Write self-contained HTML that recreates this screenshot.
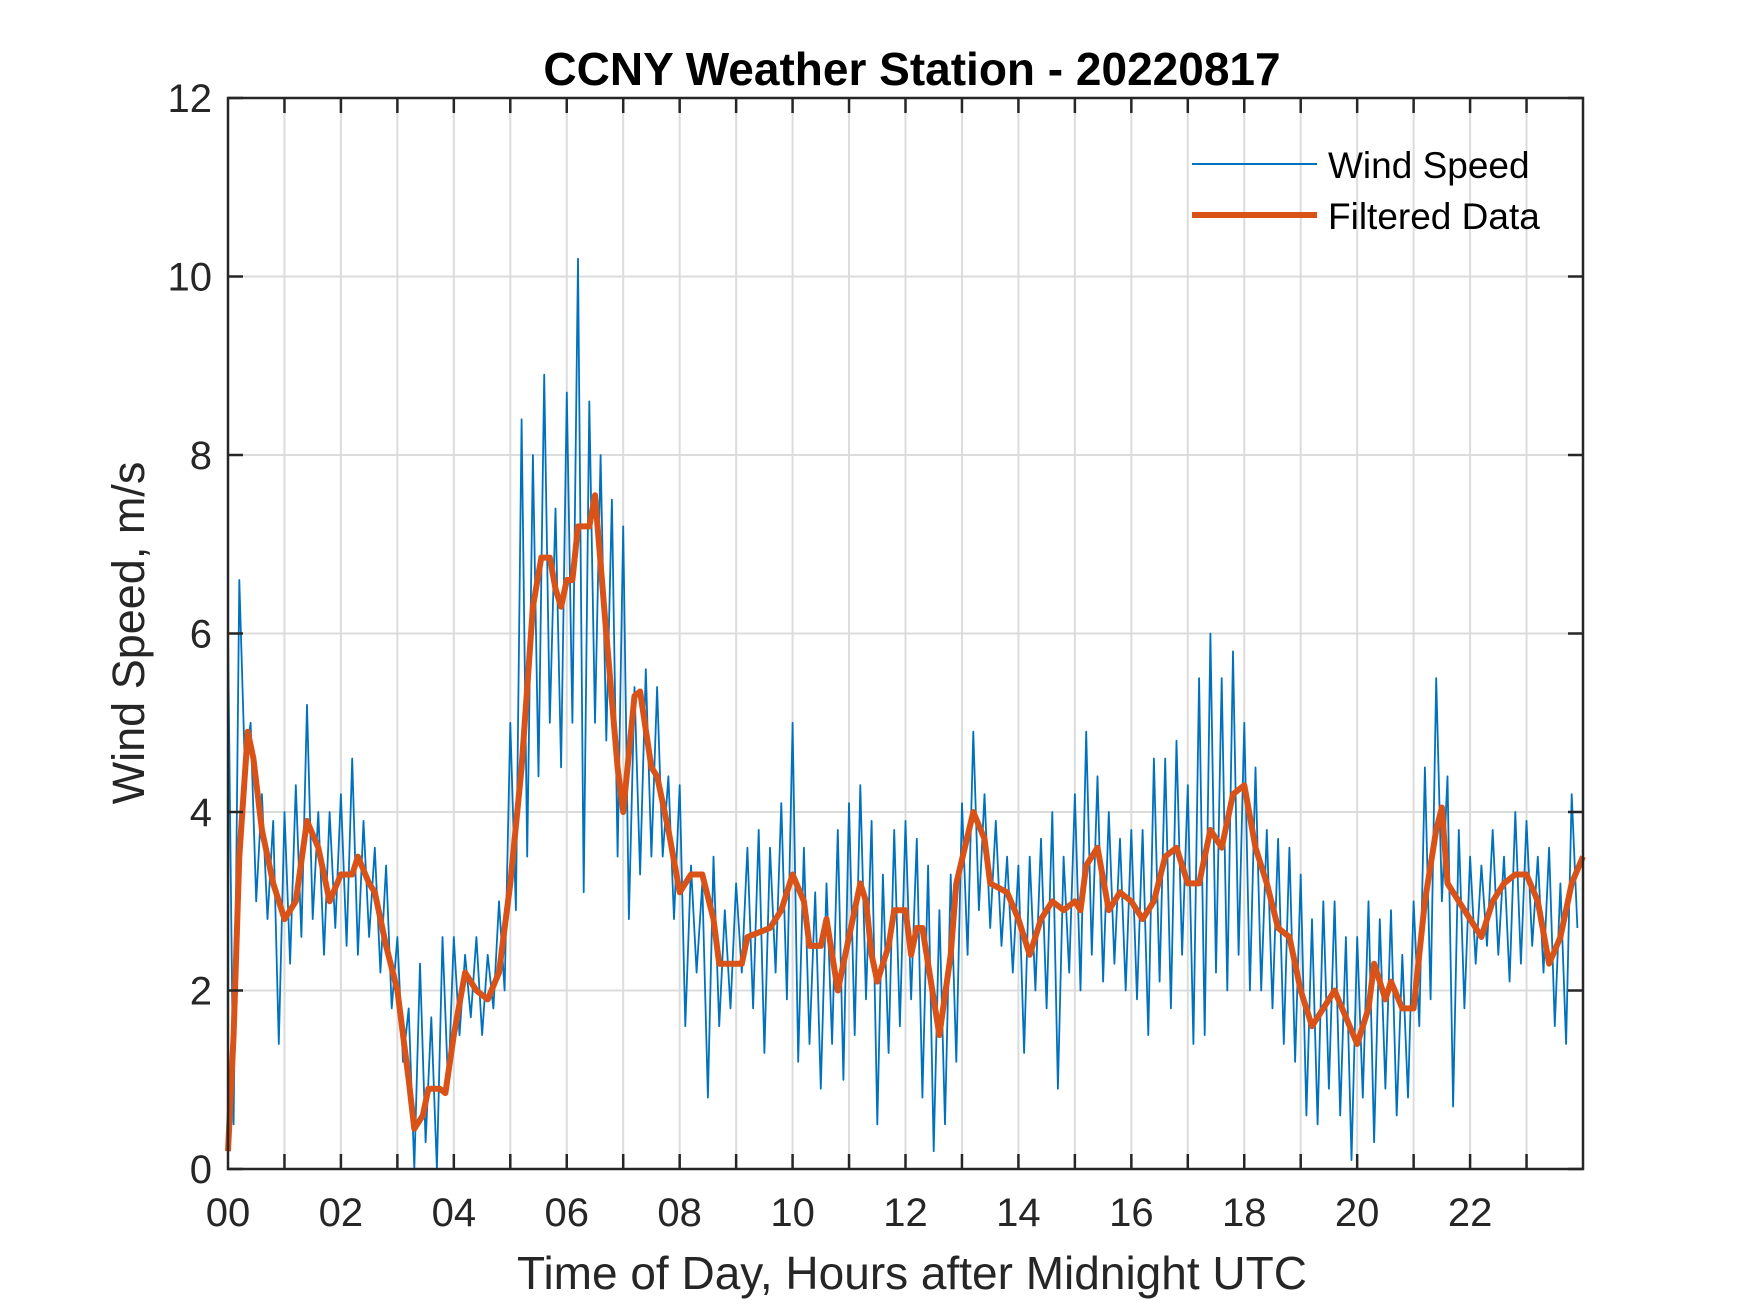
<!DOCTYPE html>
<html><head><meta charset="utf-8"><style>
html,body{margin:0;padding:0;background:#fff;}
svg{display:block;font-family:"Liberation Sans",Arial,sans-serif;}
</style></head><body>
<svg id="chart" width="1750" height="1313" viewBox="0 0 1750 1313" xmlns="http://www.w3.org/2000/svg">
<rect width="1750" height="1313" fill="#fff"/>
<g id="grid"></g>
<g id="series"></g>
<g id="axes"></g>
<text x="912" y="85" text-anchor="middle" font-size="46" font-weight="bold" fill="#000">CCNY Weather Station - 20220817</text>
<text x="912" y="1289" text-anchor="middle" font-size="46" fill="#262626">Time of Day, Hours after Midnight UTC</text>
<text transform="translate(144,633) rotate(-90)" text-anchor="middle" font-size="45" fill="#262626">Wind Speed, m/s</text>
<g>
<line x1="1192" y1="164" x2="1317" y2="164" stroke="#0072BD" stroke-width="2"/>
<text x="1328" y="178" font-size="37" fill="#000">Wind Speed</text>
<line x1="1192" y1="215" x2="1317" y2="215" stroke="#D95319" stroke-width="6"/>
<text x="1328" y="229" font-size="37" fill="#000">Filtered Data</text>
</g>
</svg>
<script>
const binStart = 0, binWidth = 0.2;
const windHi = [6.0,6.6,5.0,4.2,3.9,4.0,4.3,5.2,4.0,4.0,4.2,4.6,3.9,3.6,3.4,2.6,1.8,2.3,1.7,2.6,
2.6,2.4,2.6,2.4,3.0,5.0,8.4,8.0,8.9,7.4,8.7,10.2,8.6,8.0,7.5,7.2,5.4,5.6,5.4,4.4,
4.3,3.4,3.2,3.5,2.9,3.2,3.6,3.8,3.6,4.1,5.0,3.6,3.1,3.2,3.8,4.1,4.3,3.9,3.3,3.8,
3.9,3.7,3.4,2.9,3.3,4.1,4.9,4.2,3.9,3.5,3.4,3.5,3.7,4.0,3.5,4.2,4.9,4.4,4.0,3.7,
3.8,3.8,4.6,4.6,4.8,4.3,5.5,6.0,5.5,5.8,5.0,4.5,3.8,3.7,3.6,3.3,2.8,3.0,3.0,2.6,
2.6,3.0,2.8,2.9,2.4,3.0,4.5,5.5,4.4,3.8,3.5,3.4,3.8,3.5,4.0,3.9,3.5,3.6,3.2,4.2];
const windLo = [0.5,4.5,3.0,2.8,1.4,2.3,2.6,2.8,2.4,2.7,2.5,2.4,2.6,2.2,1.8,1.2,0.0,0.3,0.0,0.9,
1.5,1.7,1.5,1.8,2.0,2.9,3.5,4.4,5.0,4.5,5.0,3.1,5.0,4.8,3.5,2.8,3.3,3.5,3.5,2.8,
1.6,2.2,0.8,1.6,1.8,2.2,1.8,1.3,2.2,1.9,1.2,1.4,0.9,1.4,1.0,1.5,1.9,0.5,1.3,1.6,
1.9,0.8,0.2,0.5,1.2,2.4,2.9,2.7,2.5,2.2,1.3,2.0,1.8,0.9,2.2,2.0,2.4,2.1,2.3,2.0,
1.9,1.5,2.1,1.8,2.4,1.4,1.5,2.2,2.0,2.4,2.0,2.0,1.8,1.4,1.2,0.6,0.5,0.9,0.6,0.1,
0.8,0.3,0.9,0.6,0.8,1.6,1.9,3.0,0.7,1.8,2.3,2.5,2.4,2.1,2.3,2.5,2.2,1.6,1.4,2.7];
const filtT = [0,0.1,0.2,0.35,0.45,0.6,0.8,1.0,1.2,1.4,1.6,1.8,2.0,2.2,2.3,2.5,2.6,2.8,3.0,3.2,3.3,3.45,3.55,3.75,3.85,4.0,4.2,4.4,4.6,4.8,5.0,5.2,5.4,5.55,5.7,5.8,5.9,6.0,6.1,6.2,6.4,6.5,6.7,6.9,7.0,7.2,7.3,7.5,7.6,7.8,8.0,8.2,8.4,8.6,8.7,8.9,9.1,9.2,9.6,9.8,10.0,10.2,10.3,10.5,10.6,10.8,11.0,11.2,11.3,11.4,11.5,11.7,11.8,12.0,12.1,12.2,12.3,12.6,12.8,12.9,13.2,13.4,13.5,13.8,14.0,14.2,14.4,14.6,14.8,15.0,15.1,15.2,15.4,15.6,15.8,16.0,16.2,16.4,16.6,16.8,17.0,17.2,17.4,17.6,17.8,18.0,18.2,18.4,18.6,18.8,19.0,19.2,19.4,19.6,19.8,20.0,20.2,20.3,20.5,20.6,20.8,21.0,21.2,21.4,21.5,21.6,21.8,22.0,22.2,22.4,22.6,22.8,23.0,23.2,23.4,23.6,23.8,24.0];
const filtV = [0.2,1.5,3.5,4.9,4.6,3.8,3.2,2.8,3.0,3.9,3.6,3.0,3.3,3.3,3.5,3.2,3.1,2.5,2.0,1.0,0.45,0.6,0.9,0.9,0.85,1.5,2.2,2.0,1.9,2.2,3.2,4.5,6.3,6.85,6.85,6.5,6.3,6.6,6.6,7.2,7.2,7.55,6.0,4.5,4.0,5.3,5.35,4.5,4.4,3.8,3.1,3.3,3.3,2.8,2.3,2.3,2.3,2.6,2.7,2.9,3.3,3.0,2.5,2.5,2.8,2.0,2.6,3.2,3.0,2.4,2.1,2.5,2.9,2.9,2.4,2.7,2.7,1.5,2.4,3.2,4.0,3.7,3.2,3.1,2.8,2.4,2.8,3.0,2.9,3.0,2.9,3.4,3.6,2.9,3.1,3.0,2.8,3.0,3.5,3.6,3.2,3.2,3.8,3.6,4.2,4.3,3.6,3.2,2.7,2.6,2.0,1.6,1.8,2.0,1.7,1.4,1.8,2.3,1.9,2.1,1.8,1.8,3.0,3.8,4.05,3.2,3.0,2.8,2.6,3.0,3.2,3.3,3.3,3.0,2.3,2.6,3.2,3.5];
const xTickLabels = ["00","02","04","06","08","10","12","14","16","18","20","22"];
const yTickLabels = ["0","2","4","6","8","10","12"];

const L=228,R=1583,T=98,B=1169,XMAX=24,YMAX=12;
const sx=h=>L+(R-L)*h/XMAX, sy=v=>B-(B-T)*v/YMAX;
const NS="http://www.w3.org/2000/svg";
function mk(tag,parent){const e=document.createElementNS(NS,tag);parent.appendChild(e);return e;}
const grid=document.getElementById('grid'),series=document.getElementById('series'),axes=document.getElementById('axes');

for(let h=1;h<XMAX;h++){
  const g=mk('line',grid);
  
  
  g.setAttribute('x1',sx(h));g.setAttribute('x2',sx(h));g.setAttribute('y1',T);g.setAttribute('y2',B);
  g.setAttribute('stroke','#dcdcdc');g.setAttribute('stroke-width','2');
}
for(let i=1;i<yTickLabels.length-1;i++){
  const v=+yTickLabels[i];
  const g=mk('line',grid);
  
  
  g.setAttribute('x1',L);g.setAttribute('x2',R);g.setAttribute('y1',sy(v));g.setAttribute('y2',sy(v));
  g.setAttribute('stroke','#dcdcdc');g.setAttribute('stroke-width','2');
}

let d='';
for(let i=0;i<windHi.length;i++){
  const t=binStart+i*binWidth;
  d+=(i?'L':'M')+sx(t).toFixed(1)+','+sy(windHi[i]).toFixed(1);
  d+='L'+sx(t+binWidth/2).toFixed(1)+','+sy(windLo[i]).toFixed(1);
}
const wl=mk('path',series);


wl.setAttribute('d',d);wl.setAttribute('fill','none');wl.setAttribute('stroke','#0072BD');wl.setAttribute('stroke-width','1.8');wl.setAttribute('stroke-linejoin','round');

let fd='';
for(let i=0;i<filtT.length;i++) fd+=(i?'L':'M')+sx(filtT[i]).toFixed(1)+','+sy(filtV[i]).toFixed(1);
const fl=mk('path',series);


fl.setAttribute('d',fd);fl.setAttribute('fill','none');fl.setAttribute('stroke','#D95319');fl.setAttribute('stroke-width','6');fl.setAttribute('stroke-linejoin','round');

const box=mk('rect',axes);


box.setAttribute('x',L);box.setAttribute('y',T);box.setAttribute('width',R-L);box.setAttribute('height',B-T);
box.setAttribute('fill','none');box.setAttribute('stroke','#262626');box.setAttribute('stroke-width','2.5');

for(let h=1;h<XMAX;h++){
  for(const [y1,y2] of [[B,B-15],[T,T+15]]){
    const tk=mk('line',axes);
    
    
    tk.setAttribute('x1',sx(h));tk.setAttribute('x2',sx(h));tk.setAttribute('y1',y1);tk.setAttribute('y2',y2);
    tk.setAttribute('stroke','#262626');tk.setAttribute('stroke-width','2.5');
  }
}
xTickLabels.forEach((lab,i)=>{
  const tx=mk('text',axes);
  
  
  tx.setAttribute('x',sx(i*2));tx.setAttribute('y',B+57);tx.setAttribute('text-anchor','middle');
  tx.setAttribute('font-size','40');tx.setAttribute('fill','#262626');tx.textContent=lab;
});
yTickLabels.forEach(lab=>{
  const v=+lab;
  for(const [x1,x2] of [[L,L+15],[R,R-15]]){
    const tk=mk('line',axes);
    
    
    tk.setAttribute('x1',x1);tk.setAttribute('x2',x2);tk.setAttribute('y1',sy(v));tk.setAttribute('y2',sy(v));
    tk.setAttribute('stroke','#262626');tk.setAttribute('stroke-width','2.5');
  }
  const tx=mk('text',axes);
  
  
  tx.setAttribute('x',L-16);tx.setAttribute('y',sy(v)+14);tx.setAttribute('text-anchor','end');
  tx.setAttribute('font-size','40');tx.setAttribute('fill','#262626');tx.textContent=lab;
});
</script>
</body></html>
